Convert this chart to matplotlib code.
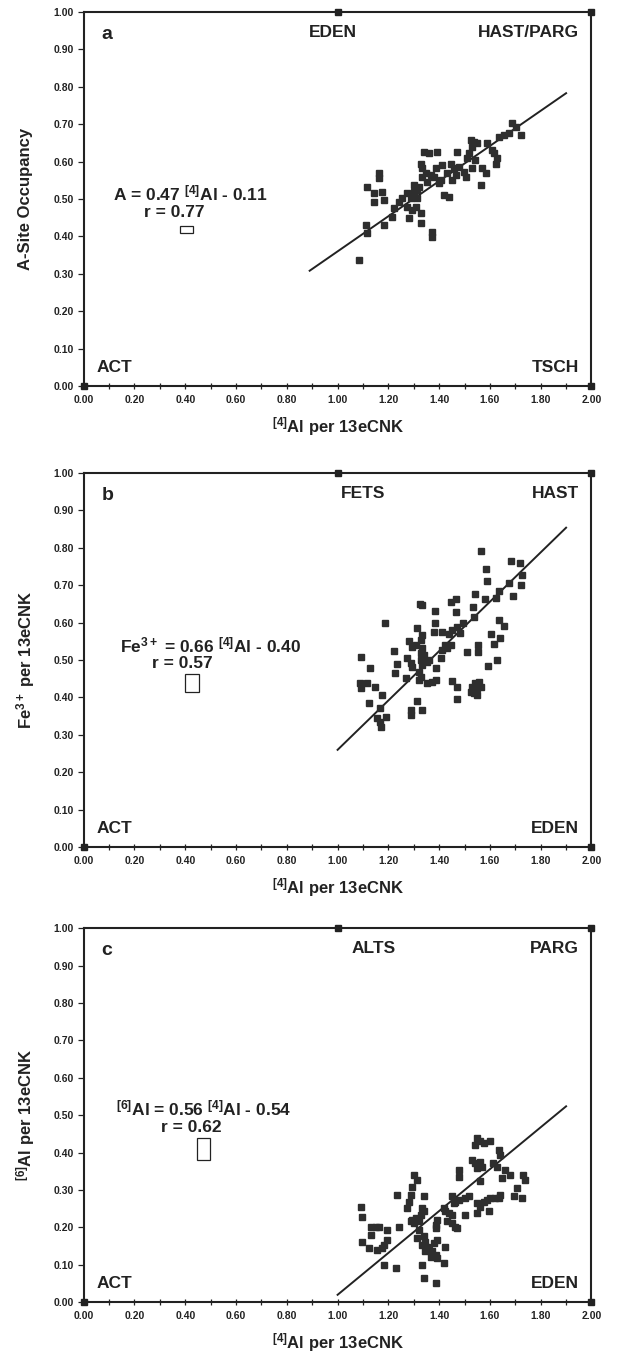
from dataclasses import dataclass
import matplotlib
matplotlib.use("Agg")
import matplotlib.pyplot as plt
from matplotlib.patches import Rectangle
from matplotlib.ticker import MultipleLocator, FormatStrFormatter

plt.rcParams['font.family'] = ['Liberation Sans', 'DejaVu Sans']
plt.rcParams['mathtext.fontset'] = 'custom'
plt.rcParams['mathtext.rm'] = 'Liberation Sans:bold'
plt.rcParams['mathtext.bf'] = 'Liberation Sans:bold'
plt.rcParams['mathtext.default'] = 'bf'

# --- panel a: A-site occupancy vs [4]Al ---
a_x = [1.084, 1.110, 1.117, 1.183, 1.117, 1.143, 1.143, 1.176, 1.183, 1.163,
       1.163, 1.222, 1.215, 1.242, 1.255, 1.274, 1.288, 1.301, 1.314, 1.320,
       1.274, 1.294, 1.307, 1.281, 1.327, 1.327, 1.373, 1.373, 1.334, 1.334,
       1.327, 1.340, 1.360, 1.393, 1.347, 1.366, 1.380, 1.399, 1.406, 1.419,
       1.439, 1.445, 1.458, 1.478, 1.432, 1.465, 1.452, 1.471, 1.504, 1.498,
       1.517, 1.530, 1.537, 1.550, 1.543, 1.530, 1.563, 1.589, 1.583, 1.570,
       1.616, 1.629, 1.622, 1.635, 1.655, 1.675, 1.688, 1.701, 1.721, 1.314,
       1.301, 1.353, 1.386, 1.412, 1.511, 1.524, 1.609]
a_y = [0.337, 0.431, 0.408, 0.431, 0.533, 0.515, 0.493, 0.520, 0.497, 0.569,
       0.555, 0.475, 0.453, 0.493, 0.502, 0.515, 0.502, 0.520, 0.524, 0.533,
       0.480, 0.471, 0.480, 0.448, 0.462, 0.435, 0.399, 0.413, 0.560, 0.582,
       0.595, 0.627, 0.622, 0.627, 0.569, 0.564, 0.560, 0.542, 0.551, 0.511,
       0.506, 0.595, 0.582, 0.586, 0.569, 0.564, 0.551, 0.627, 0.560, 0.573,
       0.622, 0.640, 0.653, 0.649, 0.604, 0.582, 0.537, 0.649, 0.569, 0.582,
       0.622, 0.609, 0.595, 0.667, 0.671, 0.676, 0.702, 0.693, 0.671, 0.502,
       0.537, 0.546, 0.582, 0.591, 0.609, 0.658, 0.631]

# --- panel b: Fe3+ vs [4]Al ---
b_x = [1.563, 1.583, 1.589, 1.684, 1.718, 1.727, 1.675, 1.721, 1.692, 1.635,
       1.622, 1.579, 1.540, 1.534, 1.537, 1.465, 1.445, 1.465, 1.324, 1.334,
       1.383, 1.382, 1.185, 1.495, 1.469, 1.452, 1.412, 1.439, 1.379, 1.484,
       1.311, 1.334, 1.327, 1.281, 1.294, 1.307, 1.334, 1.327, 1.340, 1.222,
       1.425, 1.445, 1.412, 1.432, 1.508, 1.553, 1.553, 1.634, 1.655, 1.605,
       1.639, 1.618, 1.626, 1.593, 1.093, 1.127, 1.274, 1.288, 1.294, 1.327,
       1.334, 1.353, 1.360, 1.386, 1.406, 1.235, 1.225, 1.268, 1.320, 1.327,
       1.320, 1.353, 1.373, 1.386, 1.087, 1.091, 1.117, 1.146, 1.176, 1.124,
       1.169, 1.154, 1.169, 1.189, 1.172, 1.311, 1.288, 1.288, 1.331, 1.452,
       1.469, 1.471, 1.524, 1.537, 1.550, 1.543, 1.557, 1.530, 1.550, 1.563]
b_y = [0.792, 0.743, 0.712, 0.766, 0.759, 0.727, 0.705, 0.701, 0.671, 0.686,
       0.665, 0.663, 0.676, 0.643, 0.614, 0.662, 0.656, 0.629, 0.650, 0.647,
       0.631, 0.600, 0.600, 0.600, 0.588, 0.580, 0.576, 0.571, 0.576, 0.573,
       0.585, 0.567, 0.554, 0.552, 0.536, 0.540, 0.531, 0.518, 0.514, 0.525,
       0.540, 0.540, 0.527, 0.531, 0.521, 0.540, 0.521, 0.607, 0.591, 0.571,
       0.560, 0.542, 0.500, 0.484, 0.509, 0.478, 0.505, 0.491, 0.482, 0.500,
       0.487, 0.496, 0.500, 0.480, 0.505, 0.489, 0.466, 0.453, 0.469, 0.456,
       0.447, 0.438, 0.442, 0.448, 0.438, 0.424, 0.438, 0.429, 0.407, 0.386,
       0.371, 0.344, 0.335, 0.349, 0.322, 0.391, 0.366, 0.353, 0.366, 0.445,
       0.429, 0.395, 0.415, 0.411, 0.424, 0.438, 0.442, 0.429, 0.407, 0.429]

# --- panel c: [6]Al vs [4]Al ---
c_x = [1.549, 1.575, 1.601, 1.542, 1.562, 1.634, 1.641, 1.529, 1.542, 1.562,
       1.549, 1.569, 1.614, 1.627, 1.660, 1.680, 1.647, 1.732, 1.739, 1.477,
       1.477, 1.562, 1.706, 1.693, 1.725, 1.641, 1.634, 1.621, 1.601, 1.588,
       1.575, 1.549, 1.562, 1.549, 1.595, 1.516, 1.503, 1.477, 1.464, 1.451,
       1.458, 1.503, 1.418, 1.425, 1.438, 1.451, 1.431, 1.451, 1.464, 1.471,
       1.301, 1.314, 1.294, 1.235, 1.288, 1.281, 1.340, 1.275, 1.333, 1.340,
       1.327, 1.307, 1.294, 1.320, 1.301, 1.288, 1.386, 1.392, 1.386, 1.092,
       1.098, 1.131, 1.150, 1.163, 1.196, 1.242, 1.131, 1.098, 1.124, 1.157,
       1.183, 1.196, 1.176, 1.320, 1.314, 1.340, 1.346, 1.353, 1.359, 1.373,
       1.386, 1.333, 1.346, 1.366, 1.392, 1.379, 1.392, 1.425, 1.418, 1.183,
       1.229, 1.333, 1.340, 1.386]
c_y = [0.439, 0.425, 0.430, 0.421, 0.430, 0.408, 0.394, 0.381, 0.372, 0.376,
       0.359, 0.363, 0.372, 0.363, 0.354, 0.341, 0.332, 0.341, 0.327, 0.354,
       0.336, 0.323, 0.305, 0.283, 0.278, 0.287, 0.278, 0.278, 0.278, 0.274,
       0.269, 0.265, 0.256, 0.238, 0.243, 0.283, 0.278, 0.274, 0.269, 0.283,
       0.265, 0.234, 0.252, 0.243, 0.238, 0.234, 0.216, 0.211, 0.202, 0.198,
       0.341, 0.327, 0.309, 0.287, 0.287, 0.269, 0.283, 0.252, 0.252, 0.243,
       0.234, 0.225, 0.220, 0.216, 0.211, 0.216, 0.207, 0.220, 0.198, 0.256,
       0.229, 0.202, 0.202, 0.202, 0.194, 0.202, 0.180, 0.162, 0.145, 0.140,
       0.154, 0.167, 0.145, 0.194, 0.171, 0.176, 0.162, 0.149, 0.140, 0.136,
       0.127, 0.154, 0.136, 0.122, 0.118, 0.158, 0.167, 0.149, 0.104, 0.100,
       0.091, 0.100, 0.064, 0.051]

# regression lines (slope, intercept, x range) and typical error boxes
fit_slope = [0.47, 0.66, 0.56]
fit_icept = [-0.11, -0.40, -0.54]
fit_xrange = [(0.89, 1.90), (1.00, 1.90), (1.00, 1.90)]
err_center = [(0.405, 0.418), (0.426, 0.438), (0.473, 0.410)]
err_size = [(0.054, 0.020), (0.055, 0.048), (0.052, 0.061)]

# end members at the corners of each diagram
end_x = [0.0, 1.0, 2.0, 2.0]
end_y = [0.0, 1.0, 1.0, 0.0]

panel_letters = ['a', 'b', 'c']
y_labels = ['A-Site Occupancy', r'Fe$^{3+}$ per 13eCNK', r'$^{[6]}$Al per 13eCNK']
x_label = r'$^{[4]}$Al per 13eCNK'
eq_texts = [r'A = 0.47 $^{[4]}$Al - 0.11',
            r'Fe$^{3+}$ = 0.66 $^{[4]}$Al - 0.40',
            r'$^{[6]}$Al = 0.56 $^{[4]}$Al - 0.54']
r_texts = ['r = 0.77', 'r = 0.57', 'r = 0.62']
top_mid = ['EDEN', 'FETS', 'ALTS']
top_right = ['HAST/PARG', 'HAST', 'PARG']
bottom_right = ['TSCH', 'EDEN', 'EDEN']


@dataclass
class PanelStyle:
    marker_color: str = '#2e2e2e'
    marker_size: float = 4.8
    line_width: float = 1.4
    label_size: float = 12
    corner_size: float = 12.5
    eq_size: float = 12.5
    tick_size: float = 7.5


def draw_panel(ax, i, xs, ys, style):
    ax.set_xlim(0, 2)
    ax.set_ylim(0, 1)
    for s in ax.spines.values():
        s.set_linewidth(1.5)
        s.set_color('#222222')

    ax.plot(xs, ys, 's', ms=style.marker_size, color=style.marker_color,
            mec=style.marker_color, zorder=3)

    x0, x1 = fit_xrange[i]
    ax.plot([x0, x1], [fit_slope[i] * x0 + fit_icept[i], fit_slope[i] * x1 + fit_icept[i]],
            color='#222222', lw=style.line_width, zorder=2)

    cx, cy = err_center[i]
    w, h = err_size[i]
    ax.add_patch(Rectangle((cx - w / 2, cy - h / 2), w, h, fill=False,
                           edgecolor='#222222', lw=0.9))

    ax.plot(end_x, end_y, 's', ms=4, color='#222222', clip_on=False, zorder=4)

    # ticks
    ax.xaxis.set_major_locator(MultipleLocator(0.2))
    ax.xaxis.set_minor_locator(MultipleLocator(0.1))
    ax.yaxis.set_major_locator(MultipleLocator(0.1))
    ax.xaxis.set_major_formatter(FormatStrFormatter('%.2f'))
    ax.yaxis.set_major_formatter(FormatStrFormatter('%.2f'))
    ax.tick_params(axis='x', which='both', direction='inout', length=5, width=0.9,
                   labelsize=style.tick_size, pad=4, colors='#222222')
    ax.tick_params(axis='y', direction='out', length=4, width=0.9,
                   labelsize=style.tick_size, pad=3, colors='#222222')
    for lab in ax.get_xticklabels() + ax.get_yticklabels():
        lab.set_fontweight('bold')

    kw = dict(fontsize=style.label_size, fontweight='bold', color='#222222')
    ax.text(0.5, -0.108, x_label, transform=ax.transAxes, ha='center', va='center', **kw)
    ax.text(-0.114, 0.5, y_labels[i], transform=ax.transAxes, ha='center', va='center',
            rotation=90, **kw)

    ax.text(0.07, 0.94, panel_letters[i], ha='left', va='center', fontsize=14,
            fontweight='bold', color='#222222')
    ck = dict(fontsize=style.corner_size, fontweight='bold', color='#222222')
    mid_x = [0.98, 1.10, 1.14][i]
    ax.text(mid_x, 0.945, top_mid[i], ha='center', va='center', **ck)
    ax.text(1.95, 0.945, top_right[i], ha='right', va='center', **ck)
    ax.text(0.05, 0.05, 'ACT', ha='left', va='center', **ck)
    ax.text(1.95, 0.05, bottom_right[i], ha='right', va='center', **ck)

    ek = dict(fontsize=style.eq_size, fontweight='bold', color='#222222')
    eq_x = [0.42, 0.50, 0.474][i]
    eq_y = [0.516, 0.54, 0.519][i]
    r_x = [0.355, 0.39, 0.424][i]
    r_y = [0.465, 0.492, 0.467][i]
    ax.text(eq_x, eq_y, eq_texts[i], ha='center', va='center', **ek)
    ax.text(r_x, r_y, r_texts[i], ha='center', va='center', **ek)


def main():
    style = PanelStyle()
    fig = plt.figure(figsize=(6.2, 13.54), dpi=100)
    bottoms = [0.7149, 0.3744, 0.0382]
    data = [(a_x, a_y), (b_x, b_y), (c_x, c_y)]
    for i, (xs, ys) in enumerate(data):
        ax = fig.add_axes([0.135, bottoms[i], 0.819, 0.2762])
        draw_panel(ax, i, xs, ys, style)
    fig.savefig('out.png', dpi=100, facecolor='white')


if __name__ == "__main__":
    main()
